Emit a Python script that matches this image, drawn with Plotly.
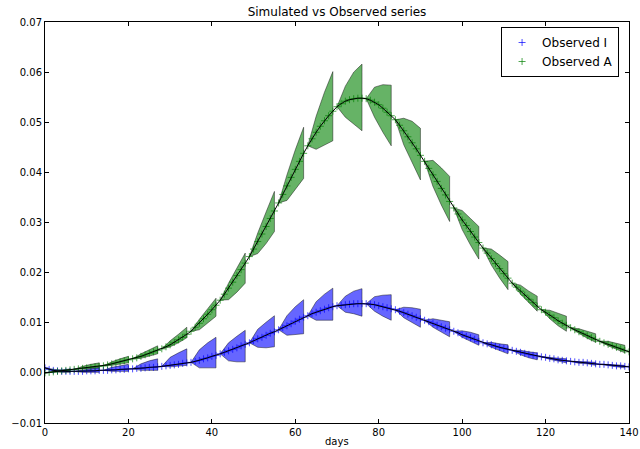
import plotly.graph_objects as go

# ---------------- data ----------------
days = list(range(141))

series_I = [
    0.0010, 0.0007, 0.0005, 0.0004, 0.0003, 0.0003, 0.0003, 0.0003, 0.0003, 0.0003,
    0.0004, 0.0004, 0.0004, 0.0005, 0.0005, 0.0005, 0.0006, 0.0006, 0.0007, 0.0007,
    0.0008, 0.0008, 0.0009, 0.0009, 0.0010, 0.0011, 0.0011, 0.0012, 0.0013, 0.0014,
    0.0015, 0.0016, 0.0017, 0.0019, 0.0020, 0.0021, 0.0023, 0.0025, 0.0028, 0.0030,
    0.0033, 0.0035, 0.0038, 0.0041, 0.0044, 0.0047, 0.0050, 0.0054, 0.0057, 0.0060,
    0.0064, 0.0068, 0.0071, 0.0075, 0.0079, 0.0082, 0.0086, 0.0090, 0.0094, 0.0098,
    0.0103, 0.0107, 0.0111, 0.0114, 0.0118, 0.0121, 0.0124, 0.0127, 0.0130, 0.0132,
    0.0134, 0.0135, 0.0136, 0.0137, 0.0138, 0.0138, 0.0138, 0.0138, 0.0137, 0.0136,
    0.0134, 0.0132, 0.0130, 0.0128, 0.0126, 0.0123, 0.0120, 0.0117, 0.0114, 0.0111,
    0.0108, 0.0105, 0.0102, 0.0099, 0.0095, 0.0092, 0.0089, 0.0086, 0.0083, 0.0080,
    0.0076, 0.0073, 0.0070, 0.0067, 0.0063, 0.0060, 0.0058, 0.0056, 0.0053, 0.0051,
    0.0049, 0.0047, 0.0045, 0.0043, 0.0041, 0.0039, 0.0037, 0.0035, 0.0034, 0.0032,
    0.0031, 0.0029, 0.0028, 0.0026, 0.0025, 0.0024, 0.0023, 0.0022, 0.0021, 0.0021,
    0.0020, 0.0019, 0.0018, 0.0017, 0.0017, 0.0016, 0.0015, 0.0014, 0.0014, 0.0013,
    0.0012,
]

series_A = [
    0.0000, 0.0001, 0.0002, 0.0003, 0.0004, 0.0005, 0.0006, 0.0007, 0.0008, 0.0009,
    0.0010, 0.0011, 0.0012, 0.0013, 0.0014, 0.0016, 0.0018, 0.0020, 0.0022, 0.0024,
    0.0026, 0.0028, 0.0030, 0.0033, 0.0036, 0.0039, 0.0042, 0.0045, 0.0048, 0.0052,
    0.0056, 0.0061, 0.0066, 0.0071, 0.0077, 0.0083, 0.0091, 0.0099, 0.0108, 0.0117,
    0.0126, 0.0135, 0.0145, 0.0157, 0.0169, 0.0181, 0.0194, 0.0206, 0.0219, 0.0232,
    0.0247, 0.0262, 0.0277, 0.0292, 0.0308, 0.0323, 0.0339, 0.0356, 0.0373, 0.0390,
    0.0406, 0.0422, 0.0438, 0.0453, 0.0467, 0.0480, 0.0492, 0.0503, 0.0513, 0.0522,
    0.0531, 0.0537, 0.0542, 0.0545, 0.0547, 0.0548, 0.0548, 0.0547, 0.0544, 0.0540,
    0.0535, 0.0528, 0.0520, 0.0513, 0.0505, 0.0494, 0.0483, 0.0471, 0.0459, 0.0447,
    0.0434, 0.0422, 0.0408, 0.0395, 0.0382, 0.0368, 0.0355, 0.0342, 0.0329, 0.0317,
    0.0305, 0.0294, 0.0282, 0.0271, 0.0260, 0.0249, 0.0239, 0.0228, 0.0218, 0.0208,
    0.0198, 0.0189, 0.0179, 0.0171, 0.0163, 0.0155, 0.0147, 0.0140, 0.0133, 0.0126,
    0.0121, 0.0115, 0.0110, 0.0104, 0.0099, 0.0095, 0.0090, 0.0086, 0.0082, 0.0078,
    0.0074, 0.0070, 0.0067, 0.0063, 0.0060, 0.0057, 0.0054, 0.0051, 0.0048, 0.0045,
    0.0042,
]

# forecast windows (start day), band values at day offsets 2, 4, 6 of each window
window_starts = list(range(0, 140, 7))
band_offsets = [2, 4, 6]

band_I_upper = [
    [0.0007, 0.0006, 0.0006], [0.0006, 0.0008, 0.0010], [0.0011, 0.0014, 0.0017],
    [0.0018, 0.0024, 0.0028], [0.0031, 0.0040, 0.0048], [0.0046, 0.0060, 0.0071],
    [0.0060, 0.0073, 0.0085], [0.0087, 0.0101, 0.0114], [0.0114, 0.0132, 0.0146],
    [0.0142, 0.0157, 0.0169], [0.0153, 0.0163, 0.0168], [0.0152, 0.0155, 0.0156],
    [0.0131, 0.0130, 0.0127], [0.0108, 0.0105, 0.0102], [0.0084, 0.0081, 0.0076],
    [0.0061, 0.0058, 0.0056], [0.0045, 0.0042, 0.0040], [0.0031, 0.0029, 0.0028],
    [0.0023, 0.0022, 0.0021], [0.0017, 0.0016, 0.0015],
]
band_I_lower = [
    [0.0004, 0.0001, 0.0001], [0.0001, 0.0001, 0.0001], [0.0003, 0.0003, 0.0003],
    [0.0005, 0.0005, 0.0005], [0.0012, 0.0013, 0.0015], [0.0010, 0.0010, 0.0010],
    [0.0024, 0.0022, 0.0022], [0.0051, 0.0050, 0.0052], [0.0075, 0.0076, 0.0078],
    [0.0105, 0.0105, 0.0105], [0.0121, 0.0118, 0.0113], [0.0123, 0.0113, 0.0105],
    [0.0110, 0.0100, 0.0091], [0.0091, 0.0081, 0.0072], [0.0071, 0.0063, 0.0055],
    [0.0051, 0.0044, 0.0038], [0.0036, 0.0030, 0.0026], [0.0027, 0.0023, 0.0020],
    [0.0019, 0.0018, 0.0015], [0.0014, 0.0012, 0.0010],
]
band_A_upper = [
    [0.0003, 0.0006, 0.0008], [0.0013, 0.0017, 0.0020], [0.0022, 0.0028, 0.0033],
    [0.0038, 0.0046, 0.0054], [0.0064, 0.0077, 0.0091], [0.0107, 0.0128, 0.0149],
    [0.0179, 0.0209, 0.0239], [0.0279, 0.0321, 0.0362], [0.0395, 0.0445, 0.0490],
    [0.0512, 0.0560, 0.0601], [0.0572, 0.0600, 0.0616], [0.0570, 0.0575, 0.0574],
    [0.0508, 0.0502, 0.0488], [0.0424, 0.0409, 0.0392], [0.0324, 0.0308, 0.0292],
    [0.0247, 0.0235, 0.0222], [0.0175, 0.0163, 0.0153], [0.0125, 0.0119, 0.0113],
    [0.0088, 0.0083, 0.0078], [0.0063, 0.0059, 0.0055],
]
band_A_lower = [
    [0.0000, 0.0002, 0.0003], [0.0007, 0.0009, 0.0010], [0.0015, 0.0017, 0.0020],
    [0.0029, 0.0033, 0.0038], [0.0052, 0.0060, 0.0070], [0.0086, 0.0099, 0.0113],
    [0.0146, 0.0161, 0.0179], [0.0238, 0.0258, 0.0282], [0.0344, 0.0365, 0.0388],
    [0.0446, 0.0455, 0.0463], [0.0510, 0.0496, 0.0483], [0.0510, 0.0480, 0.0453],
    [0.0455, 0.0419, 0.0385], [0.0372, 0.0335, 0.0302], [0.0286, 0.0255, 0.0227],
    [0.0215, 0.0189, 0.0166], [0.0157, 0.0139, 0.0123], [0.0108, 0.0094, 0.0083],
    [0.0079, 0.0069, 0.0061], [0.0054, 0.0047, 0.0040],
]

x_ticks = [0, 20, 40, 60, 80, 100, 120, 140]
y_ticks = [-0.01, 0.00, 0.01, 0.02, 0.03, 0.04, 0.05, 0.06, 0.07]

# ---------------- figure ----------------
FONT = "DejaVu Sans"


def band_polygons(series, upper, lower):
    xs, ys = [], []
    for w, s in enumerate(window_starts):
        c = series[s]
        fwd = [s + o for o in band_offsets]
        xs += [s] + fwd + fwd[::-1] + [s, None]
        ys += [c] + upper[w] + lower[w][::-1] + [c, None]
    return xs, ys


fig = go.Figure()

for series, up, lo, col in [
    (series_A, band_A_upper, band_A_lower, "rgba(0,128,0,0.6)"),
    (series_I, band_I_upper, band_I_lower, "rgba(0,0,255,0.6)"),
]:
    bx, by = band_polygons(series, up, lo)
    fig.add_trace(go.Scatter(
        x=bx, y=by, mode="lines", fill="toself", fillcolor=col,
        line=dict(color="rgba(0,0,0,0.55)", width=0.8),
        hoverinfo="skip", showlegend=False,
    ))

fig.add_trace(go.Scatter(
    x=days, y=series_I, mode="markers", name="Observed I",
    marker=dict(symbol="cross-thin", size=5, line=dict(color="rgb(0,0,255)", width=0.7)),
))
fig.add_trace(go.Scatter(
    x=days, y=series_A, mode="markers", name="Observed A",
    marker=dict(symbol="cross-thin", size=5, line=dict(color="rgb(0,128,0)", width=0.7)),
))
for series in (series_I, series_A):
    fig.add_trace(go.Scatter(
        x=days, y=series, mode="lines", line=dict(color="black", width=1),
        showlegend=False, hoverinfo="skip",
    ))

axis_common = dict(
    showgrid=False, zeroline=False, showline=True, linecolor="black", linewidth=1,
    mirror="ticks", ticks="inside", ticklen=4, tickwidth=1, tickcolor="black",
    tickfont=dict(family=FONT, size=10, color="black"),
)

fig.update_layout(
    width=640, height=449,
    margin=dict(l=45, r=1, t=22, b=26),
    paper_bgcolor="white", plot_bgcolor="white",
    font=dict(family=FONT, size=10, color="black"),
    title=dict(text="Simulated vs Observed series", x=0.5, xref="paper",
               y=1 - 12 / 449, yref="container", yanchor="middle",
               font=dict(family=FONT, size=12, color="black")),
    xaxis=dict(range=[0, 140], tickvals=x_ticks, ticklabeloverflow="allow", **axis_common),
    yaxis=dict(range=[-0.01, 0.07], tickvals=y_ticks, tickformat=".2f", **axis_common),
    legend=dict(x=0.983, y=0.9875, xanchor="right", yanchor="top",
                bgcolor="white", bordercolor="black", borderwidth=1,
                font=dict(family=FONT, size=12, color="black"),
                tracegroupgap=0, itemwidth=30),
    showlegend=True,
    annotations=[dict(text="days", x=0.5, xref="paper", y=-18 / 401, yref="paper",
                      yanchor="middle", showarrow=False,
                      font=dict(family=FONT, size=10, color="black"))],
)

fig.write_html("out.html")
